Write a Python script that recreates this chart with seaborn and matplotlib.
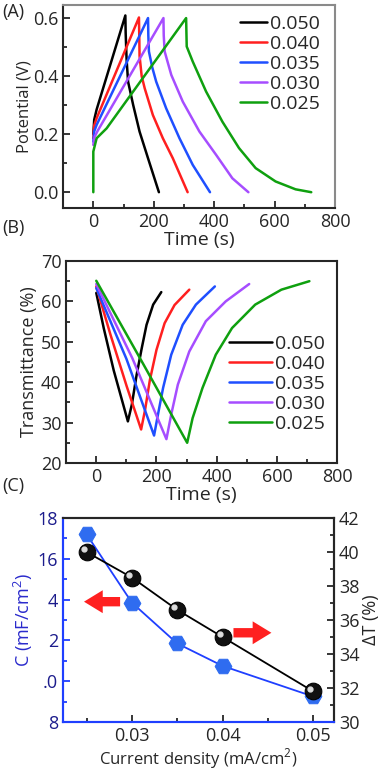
import numpy as np
import pandas as pd
import matplotlib
matplotlib.use("Agg")
import matplotlib.pyplot as plt
import matplotlib.transforms as mtransforms
from matplotlib.ticker import MultipleLocator, FixedLocator, FormatStrFormatter
import seaborn as sns

# current densities (mA/cm2) of the curves, in legend order
labels = ["0.050", "0.040", "0.035", "0.030", "0.025"]
colors = ["#000000", "#ff1f1f", "#1f4fff", "#a64dff", "#0fa00f"]

# (A) galvanostatic charge/discharge, time (s) and potential (V)
gcd_t = {
    "0.050": [0, 3, 11, 106, 107, 110, 115, 132, 153, 181, 217],
    "0.040": [0, 3, 11, 151, 152, 153, 160, 170, 197, 230, 263, 312],
    "0.035": [0, 3, 11, 181, 182, 184, 195, 208, 241, 285, 329, 386],
    "0.030": [0, 4, 13, 232, 233, 236, 258, 296, 351, 406, 460, 513],
    "0.025": [0, 0, 11, 44, 307, 308, 309, 329, 373, 427, 482, 537, 603, 669, 721],
}
gcd_v = {
    "0.050": [0.20, 0.25, 0.285, 0.609, 0.55, 0.46, 0.381, 0.30, 0.209, 0.117, 0.0],
    "0.040": [0.186, 0.23, 0.255, 0.602, 0.54, 0.47, 0.40, 0.358, 0.266, 0.186, 0.117, 0.0],
    "0.035": [0.174, 0.21, 0.232, 0.60, 0.54, 0.485, 0.43, 0.381, 0.289, 0.186, 0.094, 0.0],
    "0.030": [0.163, 0.19, 0.209, 0.60, 0.54, 0.485, 0.404, 0.312, 0.209, 0.129, 0.048, 0.0],
    "0.025": [0.0, 0.14, 0.186, 0.22, 0.60, 0.55, 0.502, 0.45, 0.347, 0.243, 0.152, 0.083,
              0.037, 0.01, 0.0],
}

# (B) in-situ transmittance (%) during the same cycles
tr_t = {
    "0.050": [0, 25, 58, 105, 118, 134, 151, 167, 189, 216],
    "0.040": [0, 47, 101, 149, 162, 178, 200, 227, 260, 309],
    "0.035": [0, 100, 192, 205, 222, 249, 287, 331, 394],
    "0.030": [0, 120, 233, 249, 271, 309, 364, 430, 508],
    "0.025": [0, 150, 302, 320, 353, 397, 451, 528, 615, 708],
}
tr_T = {
    "0.050": [62.1, 53.3, 42.9, 30.3, 34.4, 41.8, 48.4, 54.2, 59.2, 62.3],
    "0.040": [63.7, 51.8, 39.0, 28.3, 33.1, 40.5, 48.0, 54.6, 59.1, 62.9],
    "0.035": [63.3, 45.8, 26.8, 32.0, 38.6, 46.8, 54.2, 59.2, 63.7],
    "0.030": [64.3, 45.9, 25.9, 32.0, 39.4, 47.6, 55.1, 60.0, 64.3],
    "0.025": [65.1, 45.3, 25.0, 31.1, 38.6, 46.8, 53.4, 59.2, 62.9, 65.0],
}

# (C) areal capacitance and optical modulation vs current density
j_density = [0.025, 0.030, 0.035, 0.040, 0.050]
cap = [17.2, 13.85, 11.85, 10.75, 9.25]
delta_T = [40.0, 38.5, 36.6, 35.0, 31.8]

c_ticks = [8, 10, 12, 14, 16, 18]
c_ticklabels = ["8", ".0", "2", "4", "16", "18"]


def long_frame(tdict, ydict, yname):
    rows = []
    for lab in labels:
        for t, y in zip(tdict[lab], ydict[lab]):
            rows.append({"t": t, yname: y, "j": lab})
    return pd.DataFrame(rows)


sns.set_theme(style="ticks")
plt.rcParams["font.family"] = ["Open Sans", "DejaVu Sans"]
plt.rcParams["mathtext.fontset"] = "custom"
plt.rcParams["mathtext.rm"] = "Open Sans"
plt.rcParams["xtick.direction"] = "in"
plt.rcParams["ytick.direction"] = "in"
plt.rcParams["axes.linewidth"] = 1.5

fig = plt.figure(figsize=(3.87, 7.71), dpi=100)
axA = fig.add_axes([0.163, 0.730, 0.703, 0.2635])
axB = fig.add_axes([0.171, 0.3995, 0.700, 0.262])
axC = fig.add_axes([0.163, 0.0636, 0.700, 0.2644])
palette = dict(zip(labels, colors))


def style_time_axis(ax):
    ax.set_xlim(-100, 800)
    ax.xaxis.set_major_locator(MultipleLocator(200))
    ax.xaxis.set_minor_locator(MultipleLocator(100))
    ax.tick_params(which="both", top=False, right=False, width=1.3, labelsize=13)
    ax.tick_params(which="major", length=5)
    ax.tick_params(which="minor", length=3)
    ax.set_xlabel("Time (s)", fontsize=14, labelpad=0)


def style_legend(leg):
    for h in leg.legend_handles:
        h.set_linewidth(1.8)


# ---- (A)
dfA = long_frame(gcd_t, gcd_v, "V")
sns.lineplot(data=dfA, x="t", y="V", hue="j", hue_order=labels, palette=palette,
             sort=False, estimator=None, lw=1.8, ax=axA)
style_time_axis(axA)
axA.set_ylim(-0.055, 0.645)
axA.yaxis.set_major_locator(FixedLocator([0.0, 0.2, 0.4, 0.6]))
axA.yaxis.set_minor_locator(MultipleLocator(0.1))
axA.yaxis.set_major_formatter(FormatStrFormatter("%.1f"))
axA.set_ylabel("Potential (V)", fontsize=12, labelpad=0)
for side in ["top", "right"]:
    axA.spines[side].set_color("#8a8a8a")
legA = axA.legend(loc="upper right", frameon=False, fontsize=14, handlelength=1.4,
                  handletextpad=0.15, labelspacing=0.1, borderaxespad=0.1,
                  bbox_to_anchor=(0.98, 1.0))
style_legend(legA)

# ---- (B)
dfB = long_frame(tr_t, tr_T, "T")
sns.lineplot(data=dfB, x="t", y="T", hue="j", hue_order=labels, palette=palette,
             sort=False, estimator=None, lw=1.8, ax=axB)
style_time_axis(axB)
axB.set_ylim(20, 70)
axB.yaxis.set_major_locator(MultipleLocator(10))
axB.yaxis.set_minor_locator(MultipleLocator(5))
axB.set_ylabel("Transmittance (%)", fontsize=13, labelpad=2)
legB = axB.legend(loc="lower right", frameon=False, fontsize=14, handlelength=2.2,
                  handletextpad=0.15, labelspacing=0.1, borderaxespad=0.1,
                  bbox_to_anchor=(0.99, 0.1))
style_legend(legB)

# ---- (C)
blue_line = "#1f3fff"
navy = "#1c1c8c"
sns.lineplot(x=j_density, y=cap, color=blue_line, lw=1.3, marker="H", markersize=12,
             markerfacecolor="#2f6cf0", markeredgecolor="#2f6cf0", ax=axC)
axC.set_xlim(0.0224, 0.0523)
axC.set_ylim(8, 18)
axC.yaxis.set_major_locator(FixedLocator(c_ticks))
axC.set_yticklabels(c_ticklabels)
axC.yaxis.set_minor_locator(MultipleLocator(1))
axC.xaxis.set_major_locator(FixedLocator([0.03, 0.04, 0.05]))
axC.xaxis.set_minor_locator(MultipleLocator(0.005))
axC.xaxis.set_major_formatter(FormatStrFormatter("%.2f"))
axC.tick_params(which="both", top=False, right=False, width=1.3, labelsize=13)
axC.tick_params(axis="y", which="both", colors=blue_line, labelcolor=navy)
axC.tick_params(which="major", length=5)
axC.tick_params(which="minor", length=3)
axC.set_ylabel("C (mF/cm$^2$)", fontsize=13, color="#2a2acc", labelpad=2)
axC.set_xlabel("Current density (mA/cm$^2$)", fontsize=12, labelpad=1)
axC.spines["left"].set_color(blue_line)
axC.spines["bottom"].set_color(blue_line)

axR = axC.twinx()
sns.lineplot(x=j_density, y=delta_T, color="black", lw=1.3, marker="o", markersize=12,
             markerfacecolor="#111111", markeredgecolor="black", ax=axR)
shine = mtransforms.offset_copy(axR.transData, fig=fig, x=-2, y=2, units="points")
axR.plot(j_density, delta_T, ls="none", marker="o", markersize=3.5,
         color="#dddddd", transform=shine)
axR.set_ylim(30, 42)
axR.yaxis.set_major_locator(MultipleLocator(2))
axR.yaxis.set_minor_locator(MultipleLocator(1))
axR.tick_params(which="both", width=1.3, labelsize=13)
axR.tick_params(which="major", length=5)
axR.tick_params(which="minor", length=3)
axR.set_ylabel("ΔT (%)", fontsize=13, labelpad=2)
axR.spines["left"].set_color(blue_line)
axR.spines["bottom"].set_color(blue_line)

# red arrows pointing to each axis
arrow = dict(arrowstyle="simple,head_width=1.1,head_length=0.9,tail_width=0.45",
             color="#ff2020", lw=0, mutation_scale=15)
axC.annotate("", xy=(0.0244, 13.9), xytext=(0.0290, 13.9), arrowprops=arrow)
axR.annotate("", xy=(0.0457, 35.25), xytext=(0.0409, 35.25), arrowprops=arrow)

# panel letters
fig.text(0.005, 0.984, "(A)", fontsize=13, va="center", ha="left")
fig.text(0.005, 0.704, "(B)", fontsize=13, va="center", ha="left")
fig.text(0.005, 0.370, "(C)", fontsize=13, va="center", ha="left")

fig.savefig("out.png", dpi=100)
